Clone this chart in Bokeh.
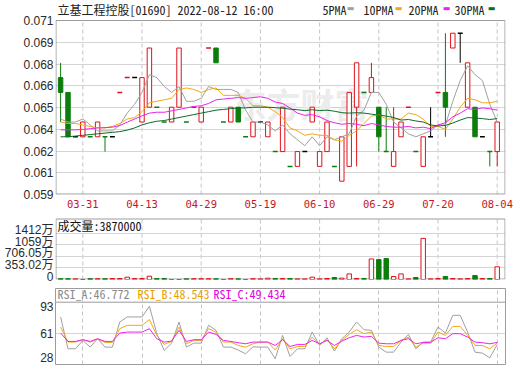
import numpy as np
from bokeh.plotting import figure
from bokeh.layouts import column
from bokeh.models import FixedTicker, Range1d, Label, Span, CustomJSTickFormatter
from bokeh.embed import file_html
from bokeh.resources import INLINE

# ---------------- data ----------------
title_text = "立基工程控股[01690] 2022-08-12 16:00"
legend_names = ["5PMA", "10PMA", "20PMA", "30PMA"]
date_ticks = [3, 11, 19, 27, 35, 43, 51, 59]
date_labels = ["03-31", "04-13", "04-29", "05-19", "06-10", "06-29", "07-20", "08-04"]

open_ = [0.067, 0.066, 0.063, 0.063, 0.063, 0.063, 0.063, 0.063, 0.066, 0.067,
         0.067, 0.064, 0.065, 0.065, 0.064, 0.064, 0.065, 0.064, 0.065, 0.064,
         0.069, 0.069, 0.064, 0.064, 0.065, 0.063, 0.063, 0.064, 0.063, 0.062,
         0.062, 0.061, 0.061, 0.062, 0.064, 0.061, 0.062, 0.061, 0.060, 0.061,
         0.065, 0.066, 0.066, 0.065, 0.062, 0.061, 0.063, 0.065, 0.062, 0.061,
         0.063, 0.066, 0.066, 0.069, 0.070, 0.065, 0.065, 0.063, 0.062, 0.062]
high = [0.068, 0.066, 0.063, 0.064, 0.063, 0.064, 0.063, 0.063, 0.066, 0.067,
        0.067, 0.067, 0.069, 0.065, 0.064, 0.065, 0.069, 0.064, 0.065, 0.065,
        0.069, 0.069, 0.064, 0.065, 0.065, 0.063, 0.064, 0.064, 0.064, 0.062,
        0.065, 0.061, 0.062, 0.062, 0.065, 0.062, 0.064, 0.061, 0.063, 0.066,
        0.068, 0.066, 0.068, 0.065, 0.065, 0.065, 0.064, 0.065, 0.062, 0.063,
        0.065, 0.066, 0.070, 0.070, 0.070, 0.068, 0.065, 0.063, 0.062, 0.064]
low = [0.064, 0.063, 0.063, 0.063, 0.063, 0.063, 0.062, 0.063, 0.066, 0.067,
       0.067, 0.064, 0.065, 0.065, 0.064, 0.064, 0.065, 0.064, 0.065, 0.064,
       0.069, 0.068, 0.064, 0.064, 0.064, 0.063, 0.063, 0.064, 0.063, 0.062,
       0.062, 0.061, 0.061, 0.062, 0.064, 0.061, 0.062, 0.061, 0.060, 0.061,
       0.061, 0.066, 0.066, 0.062, 0.062, 0.061, 0.063, 0.065, 0.062, 0.061,
       0.063, 0.066, 0.063, 0.069, 0.068, 0.065, 0.063, 0.063, 0.061, 0.061]
close = [0.066, 0.063, 0.063, 0.064, 0.063, 0.064, 0.063, 0.063, 0.066, 0.067,
         0.067, 0.067, 0.069, 0.065, 0.064, 0.065, 0.069, 0.064, 0.065, 0.065,
         0.069, 0.068, 0.064, 0.065, 0.064, 0.063, 0.064, 0.064, 0.064, 0.062,
         0.065, 0.061, 0.062, 0.062, 0.065, 0.062, 0.064, 0.061, 0.063, 0.066,
         0.068, 0.066, 0.067, 0.063, 0.062, 0.062, 0.064, 0.065, 0.062, 0.063,
         0.063, 0.066, 0.065, 0.070, 0.070, 0.068, 0.063, 0.063, 0.062, 0.064]

ma5 = [0.0642, 0.0640, 0.0640, 0.0642, 0.0638, 0.0634, 0.0634, 0.0634, 0.0638, 0.0646,
       0.0652, 0.0660, 0.0672, 0.0670, 0.0664, 0.0660, 0.0664, 0.0654, 0.0654, 0.0656,
       0.0664, 0.0662, 0.0662, 0.0662, 0.0660, 0.0648, 0.0640, 0.0640, 0.0638, 0.0634,
       0.0638, 0.0632, 0.0628, 0.0624, 0.0630, 0.0624, 0.0630, 0.0628, 0.0630, 0.0632,
       0.0644, 0.0648, 0.0660, 0.0660, 0.0652, 0.0640, 0.0636, 0.0632, 0.0630, 0.0632,
       0.0634, 0.0638, 0.0638, 0.0654, 0.0668, 0.0678, 0.0672, 0.0668, 0.0652, 0.0640]
ma10 = [0.0640, 0.0639, 0.0639, 0.0638, 0.0637, 0.0636, 0.0636, 0.0637, 0.0639, 0.0642,
        0.0643, 0.0647, 0.0653, 0.0654, 0.0655, 0.0656, 0.0662, 0.0663, 0.0662, 0.0660,
        0.0662, 0.0663, 0.0658, 0.0658, 0.0658, 0.0656, 0.0651, 0.0651, 0.0650, 0.0647,
        0.0643, 0.0636, 0.0634, 0.0631, 0.0632, 0.0631, 0.0631, 0.0628, 0.0627, 0.0631,
        0.0634, 0.0639, 0.0644, 0.0645, 0.0642, 0.0642, 0.0642, 0.0646, 0.0645, 0.0642,
        0.0637, 0.0637, 0.0635, 0.0642, 0.0650, 0.0656, 0.0655, 0.0653, 0.0653, 0.0654]
ma20 = [0.06347, 0.06347, 0.06347, 0.0635, 0.06355, 0.0636, 0.06362, 0.06365, 0.06376, 0.06399,
        0.0642, 0.06442, 0.0646, 0.06466, 0.06466, 0.06475, 0.06485, 0.06495, 0.06505, 0.0651,
        0.06525, 0.0655, 0.06555, 0.0656, 0.06565, 0.0656, 0.06565, 0.0657, 0.0656, 0.06535,
        0.06525, 0.06495, 0.0646, 0.06445, 0.0645, 0.06435, 0.0641, 0.06395, 0.06385, 0.0639,
        0.06385, 0.06375, 0.0639, 0.0638, 0.0637, 0.06365, 0.06365, 0.0637, 0.0636, 0.06365,
        0.06355, 0.0638, 0.06395, 0.06435, 0.0646, 0.0649, 0.06485, 0.06495, 0.0649, 0.0648]
ma30 = [0.0630, 0.0630, 0.06305, 0.0631, 0.06315, 0.0632, 0.06325, 0.0633, 0.06335, 0.06345,
        0.0636, 0.0638, 0.06395, 0.06405, 0.0641, 0.0642, 0.0643, 0.0644, 0.0645, 0.0646,
        0.0647, 0.0648, 0.06485, 0.0649, 0.06495, 0.06495, 0.0650, 0.0650, 0.0650, 0.06497,
        0.06493, 0.06487, 0.06483, 0.06477, 0.06483, 0.06477, 0.0648, 0.06473, 0.06463, 0.0646,
        0.06463, 0.0646, 0.06453, 0.06447, 0.0644, 0.0643, 0.06413, 0.06417, 0.06407, 0.0640,
        0.0638, 0.06373, 0.06377, 0.06393, 0.06413, 0.0643, 0.06427, 0.06423, 0.06417, 0.06423]

volume = [250000, 250000, 200000, 0, 250000, 250000, 250000, 300000, 300000, 700000,
          300000, 300000, 1000000, 300000, 300000, 0, 0, 200000, 250000, 250000,
          250000, 200000, 0, 250000, 200000, 0, 250000, 200000, 400000, 300000,
          300000, 300000, 200000, 200000, 700000, 200000, 300000, 600000, 400000, 1700000,
          300000, 300000, 6250000, 6050000, 6350000, 900000, 1700000, 200000, 600000, 12500000,
          200000, 300000, 900000, 300000, 200000, 300000, 1200000, 300000, 300000, 3870000]
volume_text = "成交量:3870000"

rsi_a = [80.7, 41.5, 41.5, 51.8, 43.6, 53.9, 43.6, 43.6, 74.5, 80.7,
         80.7, 80.7, 93.9, 60.1, 39.5, 48.5, 74.5, 43.6, 48.5, 48.5,
         70.4, 64.2, 43.6, 43.6, 40.0, 35.4, 44.0, 43.6, 43.6, 29.2,
         58.0, 32.1, 41.5, 41.5, 62.1, 45.6, 55.1, 38.7, 53.9, 62.1,
         74.5, 65.0, 64.2, 43.6, 37.4, 37.4, 49.8, 59.3, 41.5, 49.8,
         49.8, 68.3, 60.9, 82.7, 82.7, 62.1, 37.4, 36.2, 30.4, 46.772]
rsi_b = [68.3, 49.8, 49.8, 52.7, 49.8, 53.5, 49.4, 49.4, 66.3, 70.4,
         70.4, 70.4, 77.4, 58.0, 47.0, 50.6, 68.3, 47.7, 51.8, 51.8,
         66.3, 62.1, 49.8, 49.8, 45.6, 43.6, 47.7, 49.8, 49.8, 40.0,
         53.9, 41.5, 44.4, 44.4, 56.0, 46.9, 52.7, 41.5, 51.8, 59.3,
         65.0, 60.1, 62.1, 45.6, 44.4, 44.4, 51.8, 56.0, 43.6, 48.5,
         48.5, 62.1, 58.0, 69.1, 69.1, 58.0, 45.6, 45.6, 41.5, 48.543]
rsi_c = [60.9, 50.6, 50.6, 52.7, 50.6, 53.9, 50.6, 50.6, 60.9, 62.1,
         62.1, 62.1, 66.3, 53.9, 49.8, 51.0, 64.2, 50.6, 52.7, 52.7,
         62.1, 59.3, 51.8, 50.6, 49.0, 47.7, 49.8, 49.8, 49.8, 45.6,
         52.7, 44.4, 46.9, 46.9, 51.8, 47.7, 51.8, 45.6, 51.0, 55.1,
         58.0, 56.0, 56.8, 48.5, 47.7, 47.7, 51.8, 53.9, 47.7, 49.4,
         49.4, 55.1, 53.9, 60.1, 60.1, 56.0, 49.8, 49.0, 47.7, 49.434]
rsi_texts = ["RSI_A:46.772", "RSI_B:48.543", "RSI_C:49.434"]

price_ticks = [0.0591, 0.06057, 0.06204, 0.06351, 0.06498, 0.06645, 0.06792, 0.06939, 0.07086]
price_labels = ["0.059", "0.061", "0.062", "0.064", "0.065", "0.066", "0.068", "0.069", "0.071"]
vol_ticks = [0, 3530200, 7060500, 10590700, 14120800]
vol_labels = ["0", "353.02万", "706.05万", "1059万", "1412万"]
rsi_ticks = [28, 60.5, 93]
rsi_labels = ["28", "61", "93"]

# ---------------- style ----------------
RED = "#e0101a"
GREEN = "#0b7d0b"
BLACK = "#000000"
FRAME = "#9c9c9c"
HGRID = "#d4d4d4"
VGRID = "#c4c4c4"
C5, C10, C20, C30 = "#a0a0a0", "#f0a818", "#ee22ee", "#0c6b2c"
AX_FONT = "Liberation Sans, Noto Sans CJK SC"
MONO = "Noto Sans Mono CJK SC, DejaVu Sans Mono, monospace"

W, LB, RB = 520, 55, 15
XR = (-0.69, 60.12)
FRAME_W = W - LB - RB


def cx(px):
    return XR[0] + (px - LB) * (XR[1] - XR[0]) / FRAME_W


def fmt(vals, labels):
    return CustomJSTickFormatter(args=dict(vals=vals, labels=labels), code="""
let b = 0, bd = Infinity;
for (let k = 0; k < vals.length; k++) { const d = Math.abs(vals[k] - tick); if (d < bd) { bd = d; b = k; } }
return labels[b];""")


def base(h, y0, y1, top, bottom, grid_ticks, label_ticks, labels):
    p = figure(width=W, height=h, x_range=Range1d(*XR), y_range=Range1d(y0, y1),
               output_backend="svg", toolbar_location=None,
               min_border_left=LB, min_border_right=RB,
               min_border_top=top, min_border_bottom=bottom)
    p.outline_line_color = FRAME
    p.outline_line_width = 1
    p.background_fill_color = "white"
    p.border_fill_color = "white"
    ax = p.yaxis[0]
    ax.ticker = FixedTicker(ticks=label_ticks)
    ax.formatter = fmt(grid_ticks, labels)
    ax.axis_line_color = None
    ax.major_tick_line_color = None
    ax.minor_tick_line_color = None
    ax.major_tick_out = 0
    ax.major_tick_in = 0
    ax.minor_tick_out = 0
    ax.minor_tick_in = 0
    ax.major_label_standoff = 2
    ax.major_label_text_font = AX_FONT
    ax.major_label_text_font_size = "12px"
    ax.major_label_text_color = "#2a2a2a"
    p.ygrid.ticker = FixedTicker(ticks=grid_ticks)
    p.ygrid.grid_line_color = HGRID
    p.xgrid.ticker = FixedTicker(ticks=date_ticks)
    p.xgrid.grid_line_color = VGRID
    p.xgrid.grid_line_dash = "4 3"
    return p


n = len(close)
x = np.arange(n)
o = np.array(open_); c = np.array(close); h = np.array(high); l = np.array(low)
prev = np.r_[c[0], c[:-1]]
colors = np.where(c > o, RED, np.where(c < o, GREEN,
                  np.where(c > prev, RED, np.where(c < prev, GREEN, BLACK))))
fills = np.where(colors == GREEN, GREEN, "white")
btop = np.maximum(o, c); bbot = np.minimum(o, c)
nf = o != c
fl = ~nf

# ---------------- price panel (frame reaches the top; header drawn inside) ----------------
P_LO, P_HI = price_ticks[0] - 1e-9, price_ticks[-1] + 1e-9
p_px = (P_HI - P_LO) / 174          # price per pixel
P_TOP = P_LO + 194 * p_px           # value at canvas top (header strip)


def cy1(py):
    return P_LO + (194 - py) * p_px


p1 = base(212, P_LO, P_TOP, 0, 18, price_ticks, list(price_ticks), price_labels)
p1.outline_line_color = None
p1.xgrid.visible = False
p1.xaxis.ticker = FixedTicker(ticks=date_ticks)
p1.xaxis.major_label_overrides = {t: s for t, s in zip(date_ticks, date_labels)}
p1.xaxis.axis_line_color = None
p1.xaxis.major_tick_line_color = None
p1.xaxis.minor_tick_line_color = None
p1.xaxis.major_tick_out = 0
p1.xaxis.major_tick_in = 0
p1.xaxis.minor_tick_out = 0
p1.xaxis.minor_tick_in = 0
p1.xaxis.major_label_text_color = "#c8141e"
p1.xaxis.major_label_text_font = "DejaVu Sans Mono"
p1.xaxis.major_label_text_font_size = "10.5px"
p1.xaxis.major_label_standoff = 5

# vertical dashed date grid, only inside the price box
p1.segment(x0=date_ticks, y0=P_LO, x1=date_ticks, y1=P_HI,
           line_color=VGRID, line_dash="4 3", line_width=1, level="underlay")
# price box frame
p1.quad(left=cx(55.5), right=cx(504.5), bottom=cy1(193.5), top=P_HI,
        fill_color=None, line_color=FRAME, line_width=1)

p1.add_layout(Label(x=cx(300), y=cy1(103), text="东方财富", text_align="center",
                    text_baseline="middle", text_font="Noto Sans CJK SC",
                    text_font_style="bold", text_font_size="34px",
                    text_color="#ececec", level="underlay"))

p1.segment(x0=x, y0=h, x1=x, y1=btop, color=colors, line_width=1)
p1.segment(x0=x, y0=bbot, x1=x, y1=l, color=colors, line_width=1)
p1.vbar(x=x[nf], top=btop[nf], bottom=bbot[nf], width=0.6,
        fill_color=fills[nf], line_color=colors[nf], line_width=1)
p1.segment(x0=x[fl] - 0.33, y0=c[fl], x1=x[fl] + 0.33, y1=c[fl], color=colors[fl], line_width=1.5)

p1.line(x, ma5, color=C5, line_width=1)
p1.line(x, ma10, color=C10, line_width=1)
p1.line(x, ma20, color=C20, line_width=1)
p1.line(x, ma30, color=C30, line_width=1)

# header: title + MA legend
p1.add_layout(Label(x=cx(57), y=cy1(9), text=title_text, text_baseline="middle",
                    text_font=MONO, text_font_size="12px", text_color="#222222"))
for name, col, tx, sx in zip(legend_names, [C5, C10, C20, C30],
                             [322, 363, 408, 454], [350, 398, 446, 491]):
    p1.add_layout(Label(x=cx(tx), y=cy1(9), text=name, text_baseline="middle",
                        text_font=MONO, text_font_size="12px", text_color="#222222"))
    p1.add_layout(Label(x=cx(sx), y=cy1(8), text="▬", text_baseline="middle",
                        text_align="center", text_font="DejaVu Sans",
                        text_font_size="8px", text_color=col))

# ---------------- volume panel (frame starts at 212, box drawn from 218) ----------------
V_BOX = 18540000                    # value at the box top (canvas y 218)
v_px = V_BOX / 61
V_TOP = V_BOX + 6 * v_px            # value at canvas y 212


def cy2(py):
    return (279 - py) * v_px


vol_label_ticks = [t + 3 * v_px for t in vol_ticks]
vol_label_ticks[0] = vol_ticks[0] + 2.3 * v_px
p2 = base(74, 0, V_TOP, 0, 7, vol_ticks, vol_label_ticks, vol_labels)
p2.outline_line_color = None
p2.xgrid.visible = False
p2.xaxis.visible = False
p2.segment(x0=date_ticks, y0=0, x1=date_ticks, y1=V_BOX,
           line_color=VGRID, line_dash="4 3", line_width=1, level="underlay")
p2.quad(left=cx(55.5), right=cx(504.5), bottom=cy2(278.5), top=cy2(218.5),
        fill_color=None, line_color=FRAME, line_width=1)
vol = np.array(volume)
vcol = np.where(colors == BLACK, RED, colors)
vfill = np.where(vcol == GREEN, GREEN, "white")
p2.vbar(x=x, top=vol, bottom=0, width=0.6, fill_color=vfill, line_color=vcol, line_width=1)
p2.add_layout(Label(x=cx(57), y=cy2(224.5), text=volume_text,
                    text_baseline="middle", text_font=MONO, text_font_size="12px",
                    text_color="#111111"))

# ---------------- RSI panel ----------------
R_LO, R_HI = 22.2, 115.7
r_px = (R_HI - R_LO) / 76
rsi_label_ticks = [rsi_ticks[0] + 2.5 * r_px, rsi_ticks[1], rsi_ticks[2]]
p3 = base(79, R_LO, R_HI, 2, 1, rsi_ticks, rsi_label_ticks, rsi_labels)
p3.ygrid.ticker = FixedTicker(ticks=[rsi_ticks[1]])
p3.xaxis.visible = False
p3.line(x, rsi_a, color=C5, line_width=1)
p3.line(x, rsi_b, color=C10, line_width=1)
p3.line(x, rsi_c, color=C20, line_width=1)


def cy3(py):
    return R_HI - (py - 288) * r_px


p3.add_layout(Span(location=cy3(301.7), dimension="width", line_color=FRAME, line_width=1))
for txt, col, tx in zip(rsi_texts, ["#8a8a8a", "#e8a000", "#e000e0"], [57, 137, 213]):
    p3.add_layout(Label(x=cx(tx), y=cy3(293), text=txt, text_baseline="middle",
                        text_font=MONO, text_font_size="12px", text_color=col))

layout = column(p1, p2, p3, spacing=0)
open("out.html", "w").write(file_html(layout, INLINE))
